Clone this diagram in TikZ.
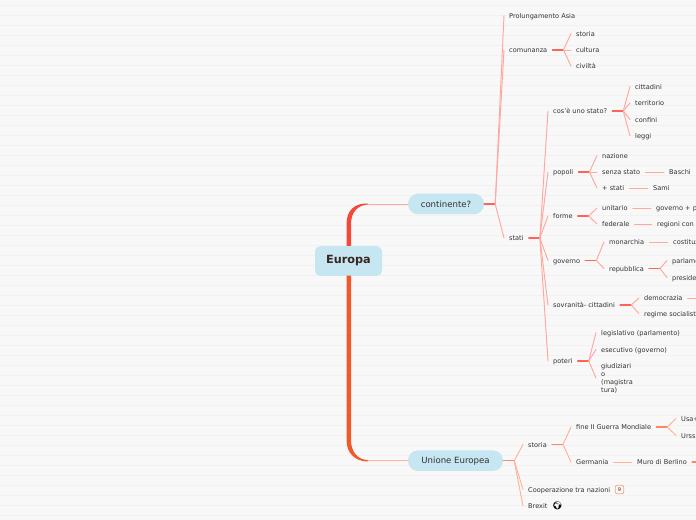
\documentclass[tikz,border=0pt]{standalone}
\usepackage{fontspec}
\setmainfont{DejaVu Sans}
\usepackage{tikz}
\usetikzlibrary{calc,positioning}
\definecolor{mapback}{RGB}{248,248,248}
\definecolor{mapgrid}{RGB}{241,241,241}
\definecolor{mapblue}{RGB}{198,230,241}
\definecolor{maptext}{RGB}{50,50,50}
\definecolor{mapred}{RGB}{244,72,58}
\definecolor{maporange}{RGB}{240,90,42}
\definecolor{stubred}{RGB}{252,100,90}
\definecolor{stuborange}{RGB}{252,135,100}
\definecolor{fanred}{RGB}{255,168,158}
\definecolor{fanorange}{RGB}{255,180,152}
\tikzset{
  leaf/.style={anchor=west,inner xsep=5bp,inner ysep=0,text=maptext,text height=7,text depth=1,
    font=\fontsize{6.6}{8}\selectfont},
  multileaf/.style={anchor=west,inner xsep=5bp,inner ysep=0,text=maptext,align=left,
    font=\fontsize{6.6}{8}\selectfont},
  topic/.style={fill=mapblue,rounded corners=10,minimum height=20.5bp,inner sep=0,text=maptext,
    font=\fontsize{8.6}{10}\selectfont},
  stubr/.style={stubred,line width=1.4},
  stubo/.style={stuborange,line width=1.4},
  fanr/.style={fanred,line width=.95},
  fano/.style={fanorange,line width=.95},
}
\begin{document}
\begin{tikzpicture}[x=1bp,y=-1bp,line cap=round]
 \useasboundingbox (0,0) rectangle (696,520);
 \fill[mapback] (0,0) rectangle (696,520);
 \foreach \gridy in {5.5,15.5,...,515.5}
   \draw[mapgrid,line width=1bp,line cap=butt] (0,\gridy)--(696,\gridy);
 % root and main topics
 \node[fill=mapblue,rounded corners=5,minimum width=67bp,minimum height=29.5bp,inner sep=0,
   text={rgb,255:red,55;green,38;blue,30},font=\fontsize{11.3}{13}\selectfont\bfseries]
   (europa) at (348.5,261) {Europa};
 \node[topic,minimum width=76bp] (continente) at (446,204) {continente?};
 \node[topic,minimum width=95bp] (unione) at (455.5,460.7) {Unione Europea};
 % first side
 \node[leaf] (prolungamento) at (504,15.5) {Prolungamento Asia};
 \node[leaf] (comunanza) at (504,50) {comunanza};
 \node[leaf] (storiaA) at (571,33.5) {storia};
 \node[leaf] (cultura) at (571,50) {cultura};
 \node[leaf] (civilta) at (571,66) {civiltà};
 \node[leaf] (stati) at (504,238) {stati};
 \node[leaf] (stato) at (548,111) {cos'è uno stato?};
 \node[leaf] (cittadini) at (630,86.5) {cittadini};
 \node[leaf] (territorio) at (630,103) {territorio};
 \node[leaf] (confini) at (630,119.5) {confini};
 \node[leaf] (leggi) at (630,136) {leggi};
 \node[leaf] (popoli) at (548,172) {popoli};
 \node[leaf] (nazione) at (597,155.5) {nazione};
 \node[leaf] (senza) at (597,172) {senza stato};
 \node[leaf] (baschi) at (664,172) {Baschi};
 \node[leaf] (piu) at (597,188) {+ stati};
 \node[leaf] (sami) at (648,188) {Sami};
 \node[leaf] (forme) at (548,216) {forme};
 \node[leaf] (unitario) at (597,208) {unitario};
 \node[leaf] (gover) at (651,208) {governo + p};
 \node[leaf] (federale) at (597,224) {federale};
 \node[leaf] (regioni) at (652,224) {regioni con p};
 \node[leaf] (governo) at (548,260.5) {governo};
 \node[leaf] (monarchia) at (604,242) {monarchia};
 \node[leaf] (costituz) at (668,242) {costituz};
 \node[leaf] (repubblica) at (604,268.5) {repubblica};
 \node[leaf] (parlame) at (667,260.5) {parlame};
 \node[leaf] (preside) at (667,277.5) {preside};
 \node[leaf] (sovranita) at (548,305) {sovranità- cittadini};
 \node[leaf] (democrazia) at (639,298) {democrazia};
 \node[leaf] (regime) at (639,313.5) {regime socialista};
 \coordinate (democraziaEnd) at (696,298);
 \node[leaf] (poteri) at (548,361) {poteri};
 \node[leaf] (legislativo) at (596,332.5) {legislativo (parlamento)};
 \node[leaf] (esecutivo) at (596,349.5) {esecutivo (governo)};
 \node[multileaf] (giudiziario) at (596,378) {giudiziari\\o\\(magistra\\tura)};
 % second side
 \node[leaf] (storiaB) at (523,444.5) {storia};
 \node[leaf] (guerra) at (571,427) {fine II Guerra Mondiale};
 \node[leaf] (usa) at (676,418.5) {Usa+};
 \node[leaf] (urss) at (676,435.5) {Urss};
 \node[leaf] (germania) at (571,462) {Germania};
 \node[leaf] (muro) at (632,462) {Muro di Berlino};
 \coordinate (muroEnd) at (696,462);
 \node[leaf] (cooperazione) at (523,489.5) {Cooperazione tra nazioni};
 \node[leaf] (brexit) at (523,506) {Brexit};
 \node[draw=stuborange!75,rounded corners=2,line width=.8,minimum width=8.5bp,minimum height=8.5bp,
   inner sep=0,text=maptext,font=\fontsize{5}{6}\selectfont] (badge) at (619.5,489.5) {9};
 \node[inner sep=0,font=\fontspec{Noto Emoji}\fontsize{8}{9}\selectfont] (globe) at (557.5,506) {🌍};
 % root branches
 \fill[mapred] (346.5,246)--(346.5,224) .. controls (346.5,210) and (355,203) .. (368,203.5)
   -- (368,204.5) .. controls (358,205) and (351,212) .. (351,224)--(351,246)--cycle;
 \fill[maporange] (346.5,275.5)--(346.5,440) .. controls (346.5,453) and (355,461.5) .. (368,461.5)
   -- (368,460) .. controls (358,460) and (351,452) .. (351,440)--(351,275.5)--cycle;
 \draw[fanr] (368,204)--(continente.west);
 \draw[fano,line width=1.2] (368,460.7)--(unione.west);
 % stubs
 \draw[stubr] (continente.east)--++(11,0) coordinate (continenteJ);
 \draw[stubr] (comunanza.east)--++(11,0) coordinate (comunanzaJ);
 \draw[stubr] (stati.east)--++(11,0) coordinate (statiJ);
 \draw[stubr] (stato.east)--++(11,0) coordinate (statoJ);
 \draw[stubr] (popoli.east)--++(11,0) coordinate (popoliJ);
 \draw[stubr] (forme.east)--++(11,0) coordinate (formeJ);
 \draw[stubr] (governo.east)--++(11,0) coordinate (governoJ);
 \draw[stubr] (repubblica.east)--++(11,0) coordinate (repubblicaJ);
 \draw[stubr] (sovranita.east)--++(11,0) coordinate (sovranitaJ);
 \draw[stubr] (poteri.east)--++(11,0) coordinate (poteriJ);
 \draw[stubo] (unione.east)--++(11,0) coordinate (unioneJ);
 \draw[stubo] (storiaB.east)--++(11,0) coordinate (storiaJ);
 \draw[stubo] (guerra.east)--++(11,0) coordinate (guerraJ);
 \draw[stubo] (muro.east)--(muroEnd);
 % fans
 \draw[fanr] (continenteJ)--(prolungamento.west);
 \draw[fanr] (continenteJ)--(comunanza.west);
 \draw[fanr] (continenteJ)--(stati.west);
 \draw[fanr] (comunanzaJ)--(storiaA.west);
 \draw[fanr] (comunanzaJ)--(cultura.west);
 \draw[fanr] (comunanzaJ)--(civilta.west);
 \draw[fanr] (statiJ)--(stato.west);
 \draw[fanr] (statiJ)--(popoli.west);
 \draw[fanr] (statiJ)--(forme.west);
 \draw[fanr] (statiJ)--(governo.west);
 \draw[fanr] (statiJ)--(sovranita.west);
 \draw[fanr] (statiJ)--(poteri.west);
 \draw[fanr] (statoJ)--(cittadini.west);
 \draw[fanr] (statoJ)--(territorio.west);
 \draw[fanr] (statoJ)--(confini.west);
 \draw[fanr] (statoJ)--(leggi.west);
 \draw[fanr] (popoliJ)--(nazione.west);
 \draw[fanr] (popoliJ)--(senza.west);
 \draw[fanr] (popoliJ)--(piu.west);
 \draw[fanr] (senza.east)--(baschi.west);
 \draw[fanr] (piu.east)--(sami.west);
 \draw[fanr] (formeJ)--(unitario.west);
 \draw[fanr] (formeJ)--(federale.west);
 \draw[fanr] (unitario.east)--(gover.west);
 \draw[fanr] (federale.east)--(regioni.west);
 \draw[fanr] (governoJ)--(monarchia.west);
 \draw[fanr] (governoJ)--(repubblica.west);
 \draw[fanr] (monarchia.east)--(costituz.west);
 \draw[fanr] (repubblicaJ)--(parlame.west);
 \draw[fanr] (repubblicaJ)--(preside.west);
 \draw[fanr] (sovranitaJ)--(democrazia.west);
 \draw[fanr] (sovranitaJ)--(regime.west);
 \draw[fanr] (democrazia.east)--(democraziaEnd);
 \draw[fanr] (poteriJ)--(legislativo.west);
 \draw[fanr] (poteriJ)--(esecutivo.west);
 \draw[fanr] (poteriJ)--(giudiziario.west);
 \draw[fano] (unioneJ)--(storiaB.west);
 \draw[fano] (unioneJ)--(cooperazione.west);
 \draw[fano] (unioneJ)--(brexit.west);
 \draw[fano] (storiaJ)--(guerra.west);
 \draw[fano] (storiaJ)--(germania.west);
 \draw[fano] (guerraJ)--(usa.west);
 \draw[fano] (guerraJ)--(urss.west);
 \draw[fano] (germania.east)--(muro.west);
\end{tikzpicture}
\end{document}
